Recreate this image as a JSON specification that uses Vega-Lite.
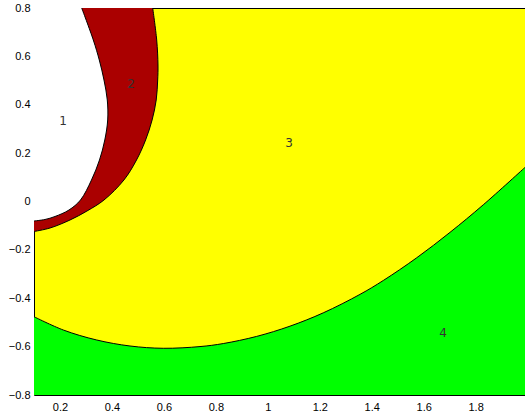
{
  "$schema": "https://vega.github.io/schema/vega-lite/v6.json",
  "autosize": {"type": "none"},
  "padding": {"left": 34, "top": 8, "right": 0, "bottom": 20},
  "width": 491,
  "height": 387,
  "background": "white",
  "config": {
    "view": {"fill": "#ffff00", "stroke": "black", "strokeWidth": 1},
    "axis": {"labelFont": "Liberation Sans", "labelFontSize": 11, "labelColor": "#000", "grid": false, "ticks": false, "domain": false, "title": null, "labelFlush": false}
  },
  "datasets": {
    "curves": [
      {"c": "a", "x": 0.2836, "y": 0.8},
      {"c": "a", "x": 0.3283, "y": 0.6677},
      {"c": "a", "x": 0.3513, "y": 0.585},
      {"c": "a", "x": 0.3694, "y": 0.5023},
      {"c": "a", "x": 0.3821, "y": 0.4196},
      {"c": "a", "x": 0.3837, "y": 0.337},
      {"c": "a", "x": 0.3725, "y": 0.2543},
      {"c": "a", "x": 0.3521, "y": 0.1716},
      {"c": "a", "x": 0.3213, "y": 0.0889},
      {"c": "a", "x": 0.279, "y": 0.0062},
      {"c": "a", "x": 0.2347, "y": -0.0351},
      {"c": "a", "x": 0.1808, "y": -0.062},
      {"c": "a", "x": 0.1423, "y": -0.0744},
      {"c": "a", "x": 0.1, "y": -0.0806},
      {"c": "b", "x": 0.5569, "y": 0.8},
      {"c": "b", "x": 0.5723, "y": 0.6677},
      {"c": "b", "x": 0.5773, "y": 0.5643},
      {"c": "b", "x": 0.5761, "y": 0.5023},
      {"c": "b", "x": 0.5704, "y": 0.4196},
      {"c": "b", "x": 0.5546, "y": 0.337},
      {"c": "b", "x": 0.5296, "y": 0.2543},
      {"c": "b", "x": 0.4946, "y": 0.1716},
      {"c": "b", "x": 0.4461, "y": 0.0889},
      {"c": "b", "x": 0.3694, "y": 0.0062},
      {"c": "b", "x": 0.304, "y": -0.0393},
      {"c": "b", "x": 0.2386, "y": -0.0765},
      {"c": "b", "x": 0.1616, "y": -0.1096},
      {"c": "b", "x": 0.1, "y": -0.124},
      {"c": "d", "x": 0.1, "y": -0.4763},
      {"c": "d", "x": 0.2128, "y": -0.5313},
      {"c": "d", "x": 0.3413, "y": -0.5726},
      {"c": "d", "x": 0.4695, "y": -0.5974},
      {"c": "d", "x": 0.5977, "y": -0.6069},
      {"c": "d", "x": 0.739, "y": -0.5998},
      {"c": "d", "x": 0.8286, "y": -0.5873},
      {"c": "d", "x": 0.9572, "y": -0.5577},
      {"c": "d", "x": 1.0854, "y": -0.5154},
      {"c": "d", "x": 1.2135, "y": -0.4603},
      {"c": "d", "x": 1.3548, "y": -0.384},
      {"c": "d", "x": 1.4445, "y": -0.3266},
      {"c": "d", "x": 1.573, "y": -0.2328},
      {"c": "d", "x": 1.7012, "y": -0.1277},
      {"c": "d", "x": 1.8294, "y": -0.0136},
      {"c": "d", "x": 1.99, "y": 0.141}
    ],
    "labels": [
      {"t": "1", "x": 0.2116, "y": 0.334},
      {"t": "2", "x": 0.4734, "y": 0.4858},
      {"t": "3", "x": 1.0815, "y": 0.2419},
      {"t": "4", "x": 1.6743, "y": -0.5437}
    ]
  },
  "data": {"name": "curves"},
  "encoding": {
    "x": {"field": "x", "type": "quantitative", "scale": {"domain": [0.1, 1.99], "nice": false, "zero": false},
          "axis": {"values": [0.2, 0.4, 0.6, 0.8, 1, 1.2, 1.4, 1.6, 1.8], "format": "~g", "labelPadding": 6}},
    "y": {"field": "y", "type": "quantitative", "scale": {"domain": [-0.8, 0.8], "nice": false, "zero": false},
          "axis": {"values": [-0.8, -0.6, -0.4, -0.2, 0, 0.2, 0.4, 0.6, 0.8], "format": "~g", "labelPadding": 4}}
  },
  "layer": [
    {
      "transform": [{"filter": "datum.c === 'd'"}],
      "mark": {"type": "area", "color": "#00ff00", "interpolate": "catmull-rom", "clip": true},
      "encoding": {"y2": {"datum": -0.8}}
    },
    {
      "transform": [{"filter": "datum.c === 'b'"}],
      "mark": {"type": "area", "orient": "horizontal", "color": "#aa0000", "interpolate": "catmull-rom", "clip": true},
      "encoding": {"x2": {"datum": 0.1}}
    },
    {
      "transform": [{"filter": "datum.c === 'a'"}],
      "mark": {"type": "area", "orient": "horizontal", "color": "#ffffff", "interpolate": "catmull-rom", "clip": true},
      "encoding": {"x2": {"datum": 0.1}}
    },
    {
      "transform": [{"filter": "datum.c === 'a' || datum.c === 'b'"}],
      "mark": {"type": "line", "color": "black", "strokeWidth": 1, "interpolate": "catmull-rom", "clip": true},
      "encoding": {"detail": {"field": "c"}, "order": {"field": "y", "type": "quantitative"}}
    },
    {
      "transform": [{"filter": "datum.c === 'd'"}],
      "mark": {"type": "line", "color": "black", "strokeWidth": 1, "interpolate": "catmull-rom", "clip": true},
      "encoding": {}
    },
    {
      "data": {"name": "labels"},
      "mark": {"type": "text", "font": "DejaVu Sans", "fontSize": 12, "color": "#333"},
      "encoding": {"text": {"field": "t"}}
    }
  ]
}
